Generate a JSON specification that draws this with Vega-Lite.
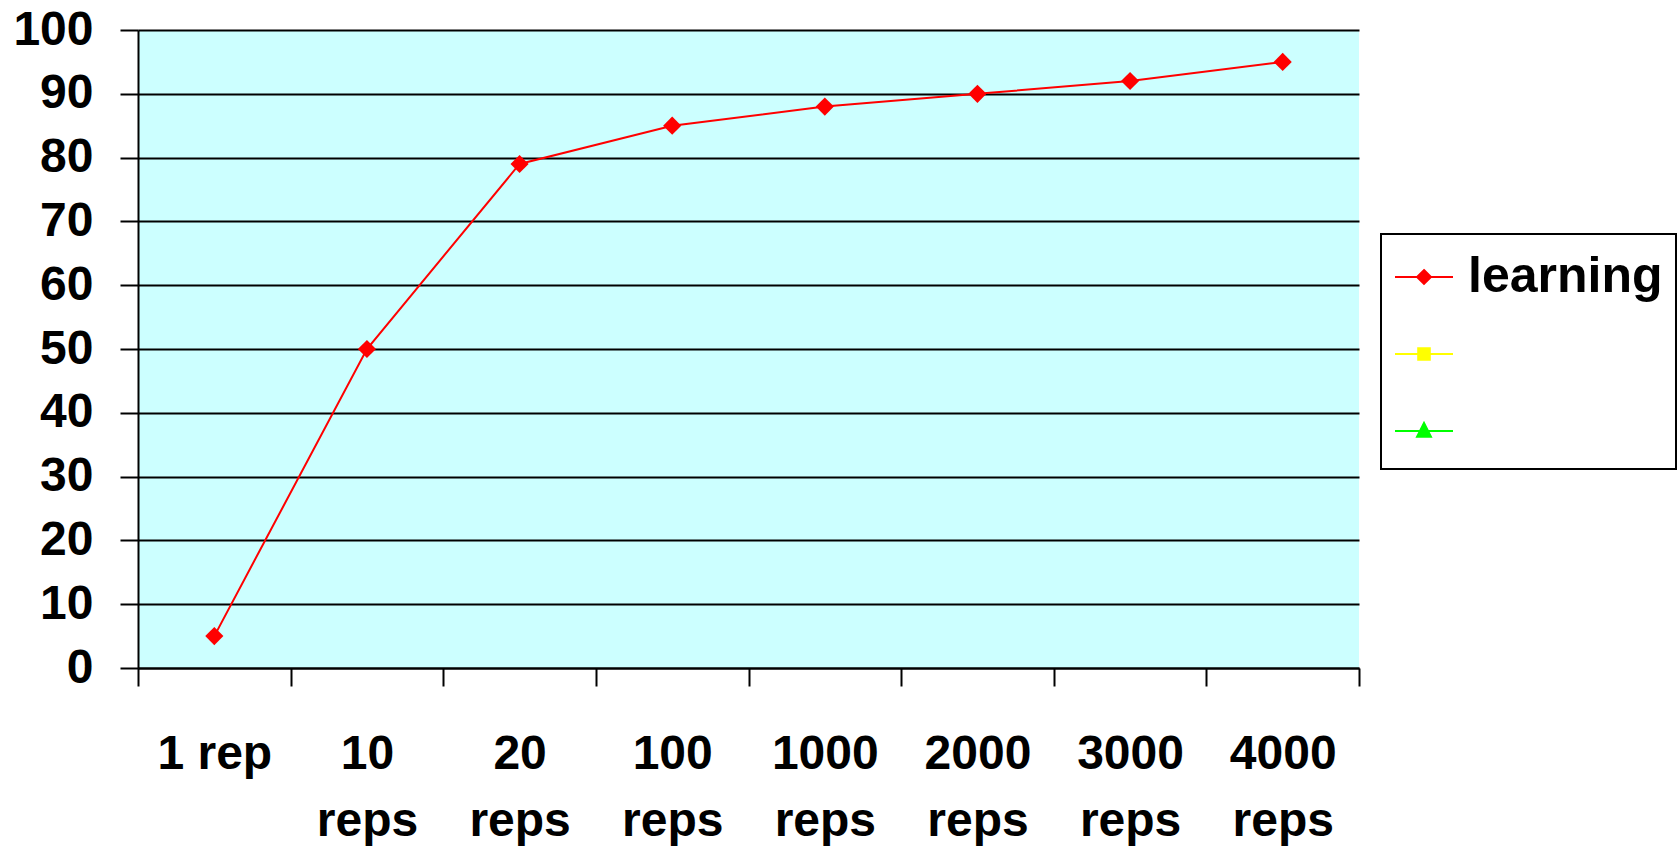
{
  "$schema": "https://vega.github.io/schema/vega-lite/v6.json",
  "width": 1221,
  "height": 638,
  "autosize": "none",
  "padding": {"left": 138, "top": 30, "right": 318, "bottom": 180},
  "background": "white",
  "config": {
    "view": {"fill": "#ccffff", "stroke": null},
    "font": "Liberation Sans"
  },
  "data": {
    "values": [
      {"cat": "1 rep", "series": "learning", "value": 5},
      {"cat": "10 reps", "series": "learning", "value": 50},
      {"cat": "20 reps", "series": "learning", "value": 79},
      {"cat": "100 reps", "series": "learning", "value": 85},
      {"cat": "1000 reps", "series": "learning", "value": 88},
      {"cat": "2000 reps", "series": "learning", "value": 90},
      {"cat": "3000 reps", "series": "learning", "value": 92},
      {"cat": "4000 reps", "series": "learning", "value": 95}
    ]
  },
  "encoding": {
    "x": {
      "field": "cat",
      "type": "nominal",
      "sort": null,
      "scale": {"paddingInner": 0, "paddingOuter": 0},
      "axis": {
        "title": null,
        "tickBand": "extent",
        "labelAngle": 0,
        "labelFont": "Liberation Sans",
        "labelFontSize": 48,
        "labelFontWeight": "bold",
        "labelColor": "black",
        "labelBaseline": "alphabetic",
        "labelPadding": 82,
        "labelLineHeight": 67,
        "labelExpr": "!isString(datum.value) ? '' : datum.value == '1 rep' ? datum.value : split(datum.value, ' ')",
        "tickColor": "black",
        "tickSize": 18,
        "tickWidth": 2,
        "domainColor": "black",
        "domainWidth": 2,
        "grid": false
      }
    },
    "y": {
      "field": "value",
      "type": "quantitative",
      "scale": {"domain": [0, 100], "nice": false},
      "axis": {
        "title": null,
        "values": [0, 10, 20, 30, 40, 50, 60, 70, 80, 90, 100],
        "grid": true,
        "gridColor": "black",
        "gridWidth": 2,
        "gridOpacity": 1,
        "domainColor": "black",
        "domainWidth": 2,
        "tickColor": "black",
        "tickSize": 18,
        "tickWidth": 2,
        "labelFont": "Liberation Sans",
        "labelFontSize": 48,
        "labelFontWeight": "bold",
        "labelColor": "black",
        "labelPadding": 27
      }
    }
  },
  "layer": [
    {
      "mark": {"type": "line", "color": "#ff0000", "strokeWidth": 2}
    },
    {
      "mark": {"type": "point", "filled": true, "shape": "diamond", "size": 330, "opacity": 1},
      "encoding": {
        "color": {
          "field": "series",
          "type": "nominal",
          "scale": {"domain": ["learning", "s2", "s3"], "range": ["#ff0000", "#ffff00", "#00ff00"]},
          "legend": {
            "orient": "none",
            "legendX": 1243,
            "legendY": 204,
            "title": null,
            "strokeColor": "black",
            "fillColor": "white",
            "padding": 13,
            "symbolSize": 3364,
            "symbolStrokeWidth": 2,
            "symbolOpacity": 1,
            "labelFont": "Liberation Sans",
            "labelFontSize": 50,
            "labelFontWeight": "bold",
            "labelColor": "black",
            "labelLimit": 500,
            "labelOffset": 14,
            "rowPadding": 22,
            "labelExpr": "datum.value === 'learning' ? datum.label : ''",
            "encode": {
              "legend": {"update": {"strokeWidth": {"value": 2}}},
              "symbols": {
                "update": {
                  "shape": {"signal": "datum.value === 'learning' ? 'M-1,0H1M0,-0.24L0.24,0L0,0.24L-0.24,0Z' : datum.value === 's2' ? 'M-1,0H1M-0.2,-0.2H0.2V0.2H-0.2Z' : 'M-1,0H1M0,-0.28L0.24,0.2H-0.24Z'"},
                  "fill": {"signal": "scale('color', datum.value)"},
                  "stroke": {"signal": "scale('color', datum.value)"},
                  "strokeWidth": {"value": 2},
                  "opacity": {"value": 1}
                }
              }
            }
          }
        }
      }
    }
  ]
}
